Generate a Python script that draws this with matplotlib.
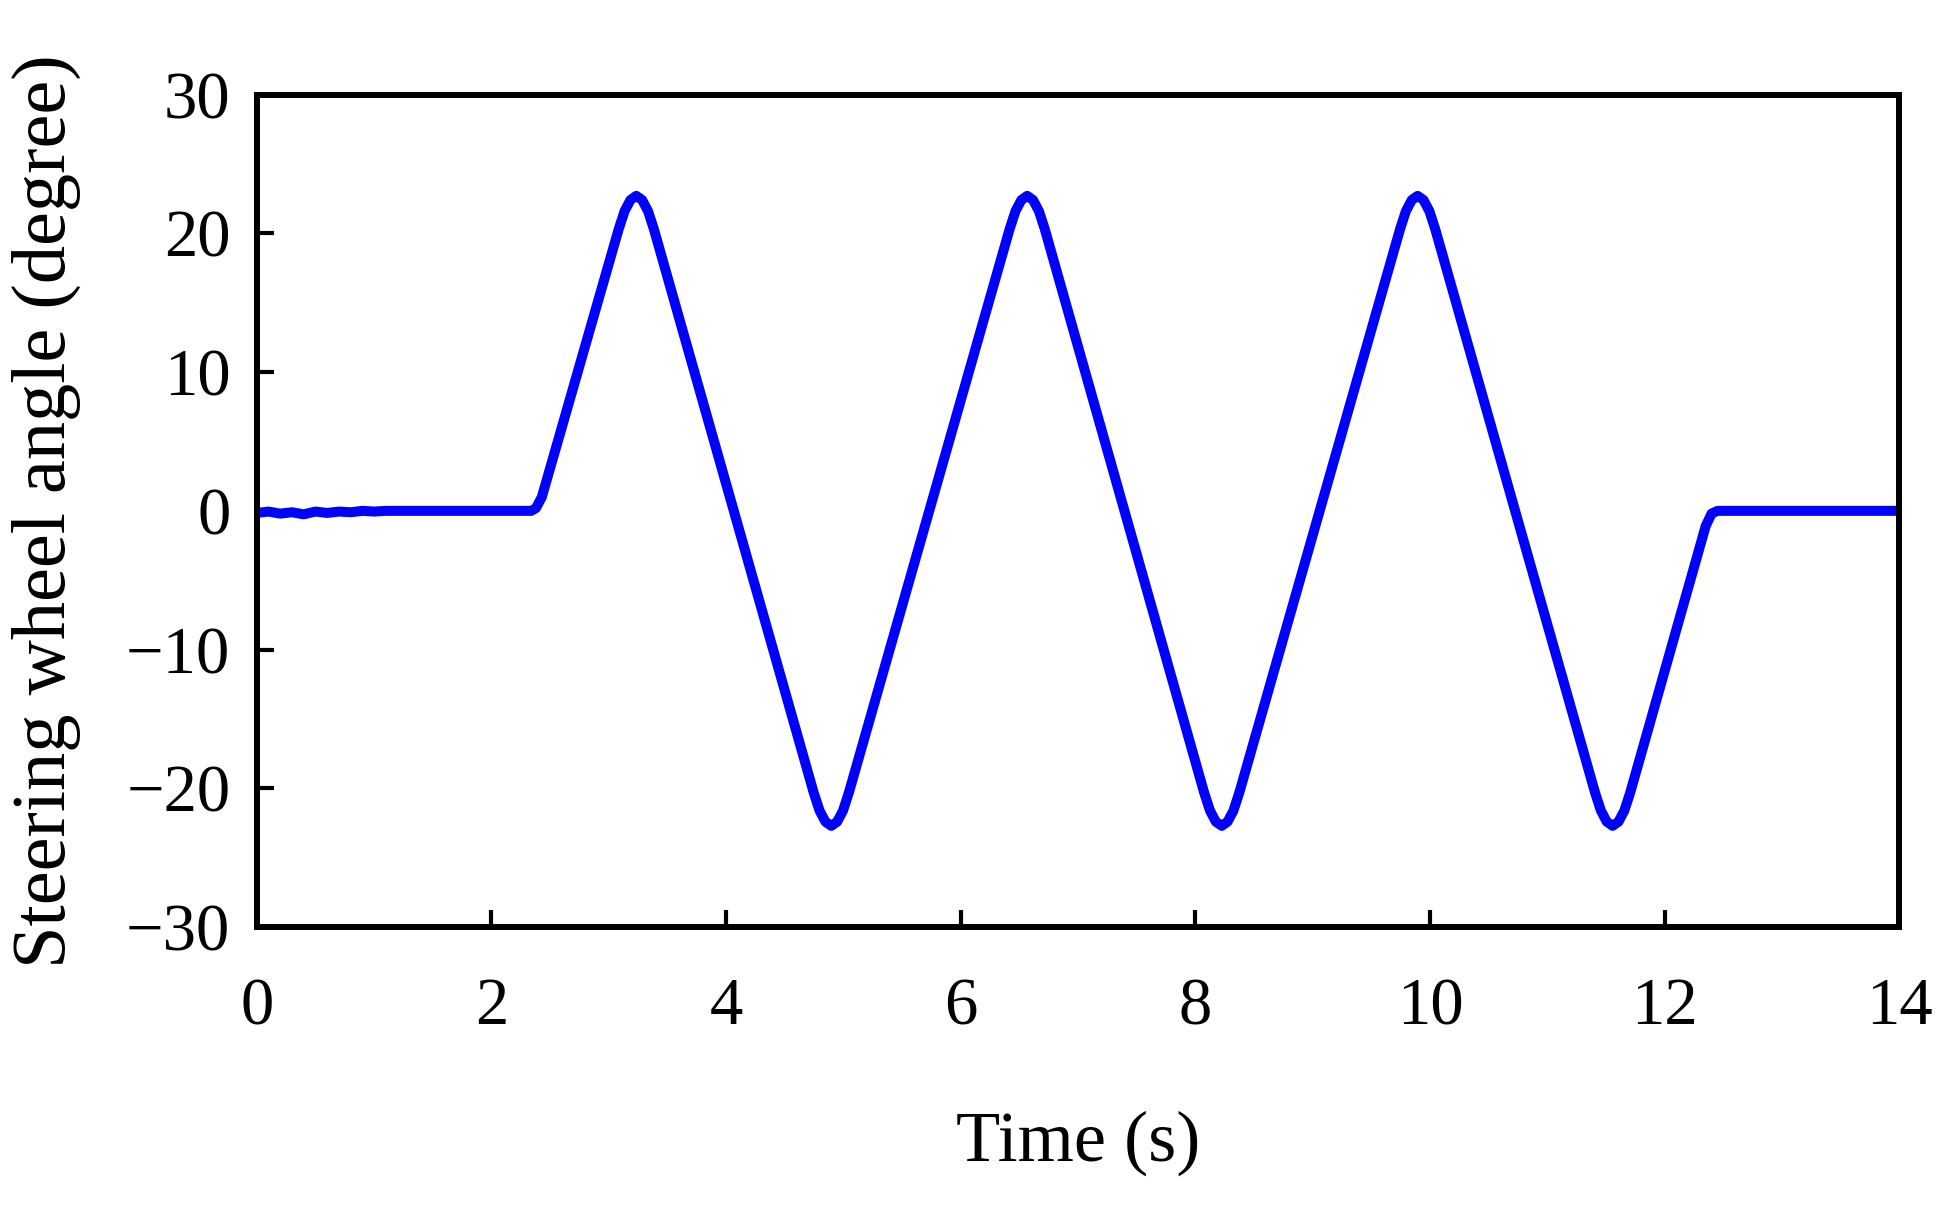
import numpy as np
import matplotlib
matplotlib.use("Agg")
import matplotlib.pyplot as plt

# ── Data ──────────────────────────────────────────────────────────────────────
# flat start with a little sensor jitter, then three full steering cycles
time_s = [
    0.00, 0.10, 0.20, 0.30, 0.40, 0.50, 0.60, 0.70, 0.80, 0.90, 1.00, 1.10,
    2.34, 2.38, 2.43,
    3.085, 3.135, 3.185, 3.235, 3.285, 3.335, 3.385,
    4.747, 4.797, 4.847, 4.897, 4.947, 4.997, 5.047,
    6.417, 6.467, 6.517, 6.567, 6.617, 6.667, 6.717,
    8.075, 8.125, 8.175, 8.225, 8.275, 8.325, 8.375,
    9.745, 9.795, 9.845, 9.895, 9.945, 9.995, 10.045,
    11.407, 11.457, 11.507, 11.557, 11.607, 11.657, 11.707,
    12.35, 12.40, 12.45, 13.00, 14.00,
]
angle_deg = [
    -0.15, -0.05, -0.20, -0.10, -0.25, -0.05, -0.15, -0.05, -0.10, 0.0, -0.05, 0.0,
    0.0, 0.2, 1.0,
    20.3, 21.6, 22.4, 22.7, 22.4, 21.6, 20.3,
    -20.3, -21.6, -22.4, -22.7, -22.4, -21.6, -20.3,
    20.3, 21.6, 22.4, 22.7, 22.4, 21.6, 20.3,
    -20.3, -21.6, -22.4, -22.7, -22.4, -21.6, -20.3,
    20.3, 21.6, 22.4, 22.7, 22.4, 21.6, 20.3,
    -20.3, -21.6, -22.4, -22.7, -22.4, -21.6, -20.3,
    -1.1, -0.2, 0.0, 0.0, 0.0,
]

x_ticks = [0, 2, 4, 6, 8, 10, 12, 14]
y_ticks = [-30, -20, -10, 0, 10, 20, 30]

# ── Style ─────────────────────────────────────────────────────────────────────
plt.rcParams["font.family"] = ["Liberation Serif", "DejaVu Serif"]
plt.rcParams["axes.unicode_minus"] = True

fig = plt.figure(figsize=(19.6, 12.12), dpi=100)
ax = fig.add_axes([0.131, 0.235, 0.838, 0.687])

ax.plot(time_s, angle_deg, color="#0000FF", linewidth=7.2,
        solid_joinstyle="round", solid_capstyle="round")

ax.set_xlim(0, 14)
ax.set_ylim(-30, 30)
ax.set_xticks(x_ticks)
ax.set_yticks(y_ticks)

for s in ax.spines.values():
    s.set_linewidth(4.3)
ax.tick_params(axis="both", direction="in", length=12, width=3,
               labelsize=48, top=False, right=False)
ax.tick_params(axis="y", pad=19)
ax.tick_params(axis="x", pad=36)

ax.set_xlabel("Time (s)", fontsize=52)
ax.set_ylabel("Steering wheel angle (degree)", fontsize=55)
ax.xaxis.set_label_coords(0.5, -0.26)
ax.yaxis.set_label_coords(-0.128, 0.5)
ax.xaxis.label.set_va("center")
ax.yaxis.label.set_va("center")

fig.savefig("out.png", dpi=100)
